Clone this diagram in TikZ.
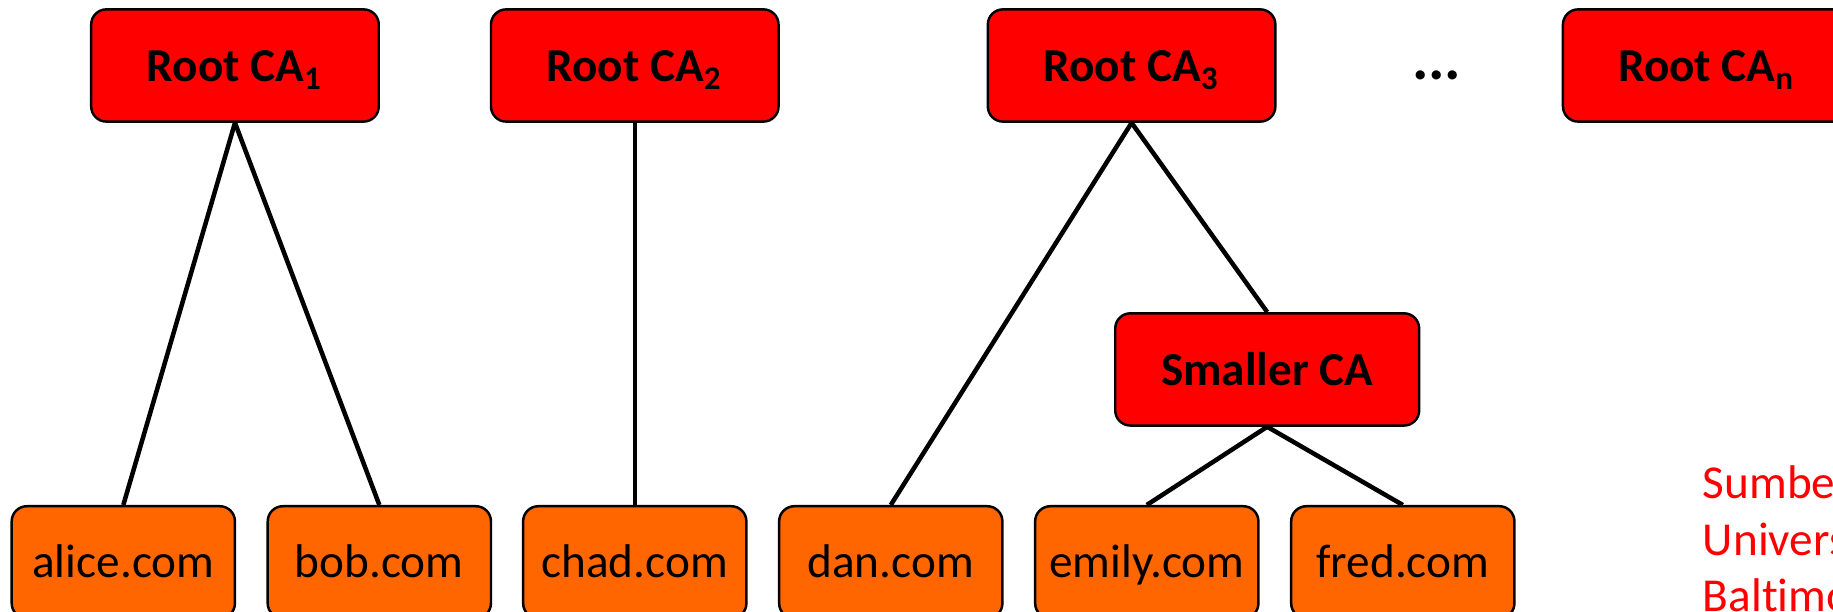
\documentclass[tikz,border=0pt]{standalone}
\usepackage{fontspec}
\setmainfont{Carlito}[Ligatures=NoCommon]
\definecolor{leaforange}{HTML}{FF6600}
\definecolor{carred}{HTML}{FF0000}
\begin{document}
\begin{tikzpicture}[x=0.1mm,y=-0.1mm,
  basebox/.style={draw=black, line width=0.6pt, rounded corners=1.3mm, inner sep=0pt, minimum height=9.6mm},
  rootbox/.style={basebox, fill=carred, minimum width=24.6mm, text height=3.2mm, text depth=0.38mm, font=\fontsize{11.5}{13.8}\selectfont\bfseries},
  leafbox/.style={basebox, fill=leaforange, minimum width=19.1mm, text height=3.0mm, text depth=0.48mm, font=\fontsize{11.5}{13.8}\selectfont},
  conn/.style={line width=1.1pt, black},
  srctext/.style={anchor=base west, inner sep=0pt, text=carred, font=\fontsize{11.5}{13.8}\selectfont}]
\useasboundingbox (0,0) rectangle (1568,523.5);
\clip (0,0) rectangle (1568,523.5);
% root CAs
\node[rootbox] (r1) at (201,56) {Root CA\textsubscript{1}};
\node[rootbox] (r2) at (543,56) {Root CA\textsubscript{2}};
\node[rootbox] (r3) at (968,56) {Root CA\textsubscript{3}};
\node[rootbox] (rn) at (1460,56) {Root CA\textsubscript{n}};
\node[anchor=base, inner sep=0pt, font=\fontsize{15}{18}\selectfont\bfseries] (dots) at (1229,68) {...};
% smaller CA
\node[rootbox, minimum width=26mm] (sm) at (1084,316) {Smaller CA};
% leaves
\node[leafbox] (alice) at (105.5,481) {alice.com};
\node[leafbox] (bob) at (324.5,481) {bob.com};
\node[leafbox] (chad) at (543,481) {chad.com};
\node[leafbox] (dan) at (762,481) {dan.com};
\node[leafbox] (emily) at (981,481) {emily.com};
\node[leafbox] (fred) at (1200,481) {fred.com};
% connectors
\draw[conn] (r1.south) -- (alice.north);
\draw[conn] (r1.south) -- (bob.north);
\draw[conn] (r2.south) -- (chad.north);
\draw[conn] (r3.south) -- (dan.north);
\draw[conn] (r3.south) -- (sm.north);
\draw[conn] (sm.south) -- (emily.north);
\draw[conn] (sm.south) -- (fred.north);
% source text (cut off at the right edge, as in the reference)
\node[srctext] (src1) at (1456,426) {Sumber:};
\node[srctext] (src2) at (1456,475) {University of Maryland};
\node[srctext] (src3) at (1456,523.5) {Baltimore County};
\end{tikzpicture}
\end{document}
